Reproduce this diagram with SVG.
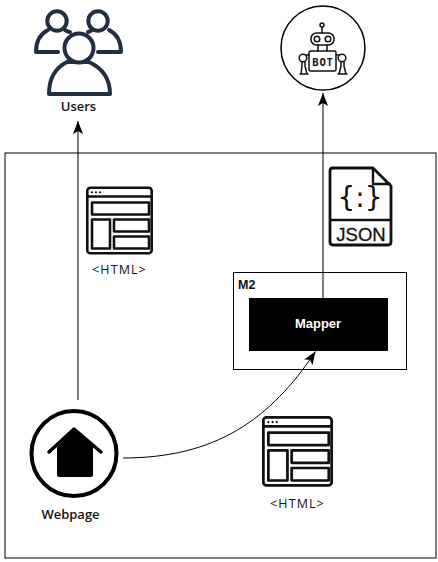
<svg xmlns="http://www.w3.org/2000/svg" width="438" height="562" viewBox="0 0 438 562">
<style>
.box{fill:#fff;stroke:#000;stroke-width:1}
.ln{fill:none;stroke:#000;stroke-width:1}
.u{fill:#fff;stroke:#232f3e;stroke-width:4;stroke-linecap:round;stroke-linejoin:round}
.ic{fill:none;stroke:#111;stroke-width:2.6;stroke-linejoin:round}
.b{fill:none;stroke:#111;stroke-width:1.5;stroke-linejoin:round;stroke-linecap:round}
.lab{font-family:"Open Sans","Noto Sans",sans-serif;font-weight:600;font-size:13px;fill:#111;text-anchor:middle}
.ar{font-family:"Liberation Sans",Arial,sans-serif;font-weight:700;font-size:12.500px}
.html{font-family:"Open Sans","Noto Sans",sans-serif;font-size:12.500px;letter-spacing:1.100px;fill:#111;text-anchor:middle}
</style>
<defs>
<marker id="ah" markerUnits="userSpaceOnUse" markerWidth="14" markerHeight="12" refX="13" refY="5.500" orient="auto"><path d="M0 0.500L13 5.500L0 10.500L3 5.500Z" fill="#000"/></marker>
<g id="htmlIcon">
<rect class="ic" x="1.300" y="1.300" width="64.400" height="65.400" rx="3"/>
<path class="ic" d="M1.300 10H65.700" stroke-width="2"/>
<rect class="ic" x="6" y="16" width="57" height="12"/>
<rect class="ic" x="6" y="33" width="18" height="29"/>
<rect class="ic" x="28" y="33" width="35" height="12"/>
<rect class="ic" x="28" y="50" width="35" height="12"/>
<g fill="#111"><circle cx="6" cy="5.800" r="1.100"/><circle cx="10" cy="5.800" r="1.100"/><circle cx="14" cy="5.800" r="1.100"/></g>
</g>
</defs>
<rect width="438" height="562" fill="#fff"/>
<rect id="container" class="box" x="5" y="153" width="431" height="405"/>
<g id="users">
<path class="u" fill="none" style="fill:none" d="M58 52H36C36 42 40 34 48 30M98 52H121C121 42 117 34 109 30M65 30Q68 32 70 32M88 32Q91 31 92 30"/>
<circle class="u" cx="57" cy="21" r="9.700"/>
<circle class="u" cx="98" cy="21" r="9.700"/>
<path d="M49 94C49 78 55 68 67 62" fill="none" stroke="#fff" stroke-width="9"/>
<path class="u" d="M49 94C49 78 55 68 67 62H89C102 68 110 78 110 94Z"/>
<circle class="u" cx="79" cy="48" r="14.500"/>
<text class="lab" x="78.500" y="111">Users</text>
</g>
<g id="bot">
<circle cx="323" cy="48" r="42" fill="#fff" stroke="#000" stroke-width="1.500"/>
<circle class="b" cx="322" cy="25" r="2"/>
<path class="b" d="M322 27V33M318 45V51M327 45V51"/>
<rect class="b" x="311" y="33" width="23" height="12" rx="5.500"/>
<circle class="b" cx="317" cy="39" r="2.800"/>
<circle class="b" cx="328" cy="39" r="2.800"/>
<rect class="b" x="309" y="51" width="27" height="20" rx="1.500"/>
<circle class="b" cx="303" cy="58" r="3.800"/>
<circle class="b" cx="342" cy="58" r="3.800"/>
<path class="b" d="M306 55H309M339 55H336M302 62V66L301 74M305 62V66L307 74M300 74H308M341 62V66L339 74M344 62V66L346 74M338 74H347"/>
<text x="323" y="65.500" font-family="'DejaVu Sans Mono','Liberation Mono',monospace" font-weight="700" font-size="10.500" letter-spacing="0.800" text-anchor="middle" fill="#111">BOT</text>
</g>
<g id="json">
<path d="M373 168H333Q330 168 330 171V242Q330 245 333 245H388Q391 245 391 242V186Z" fill="#fff" stroke="#111" stroke-width="2.800" stroke-linejoin="round"/>
<path d="M373 168V184H391M330 220H391" fill="none" stroke="#111" stroke-width="2.400"/>
<text x="360" y="207" font-family="'DejaVu Sans','Noto Sans',sans-serif" font-size="28" text-anchor="middle" fill="#111">{:}</text>
<text x="361" y="241" font-family="'Liberation Sans',Arial,sans-serif" font-size="18.500" text-anchor="middle" fill="#111" stroke="#111" stroke-width="0.300">JSON</text>
</g>
<g id="html1">
<use href="#htmlIcon" x="86" y="186.500"/>
<text class="html" x="119.500" y="274">&lt;HTML&gt;</text>
</g>
<g id="html2">
<use href="#htmlIcon" transform="translate(262 416) scale(1.060 1.040)"/>
<text class="html" x="297.500" y="508">&lt;HTML&gt;</text>
</g>
<g id="m2">
<rect class="box" x="233.500" y="272.500" width="173" height="97"/>
<text class="ar" x="238" y="289" fill="#111">M2</text>
</g>
<g id="mapper">
<rect x="249" y="298" width="139" height="53" fill="#000"/>
<text class="ar" x="318" y="327.500" fill="#fff" text-anchor="middle" style="font-size:13px">Mapper</text>
</g>
<g id="webpage">
<circle cx="74" cy="453.500" r="42.500" fill="#fff" stroke="#000" stroke-width="4"/>
<path d="M49 452L74 429L101 452" fill="none" stroke="#000" stroke-width="3.400" stroke-linecap="round" stroke-linejoin="round"/>
<path d="M57 447L74 430L93 447V475Q93 477 91 477H59Q57 477 57 475Z" fill="#000"/>
<text class="lab" x="70.500" y="519">Webpage</text>
</g>
<g id="connectors">
<path class="ln" d="M78 400V121" marker-end="url(#ah)"/>
<path class="ln" d="M323 298V93" marker-end="url(#ah)"/>
<path class="ln" d="M123 458C215 458 270 420 315.500 351.500" marker-end="url(#ah)"/>
</g>
</svg>
